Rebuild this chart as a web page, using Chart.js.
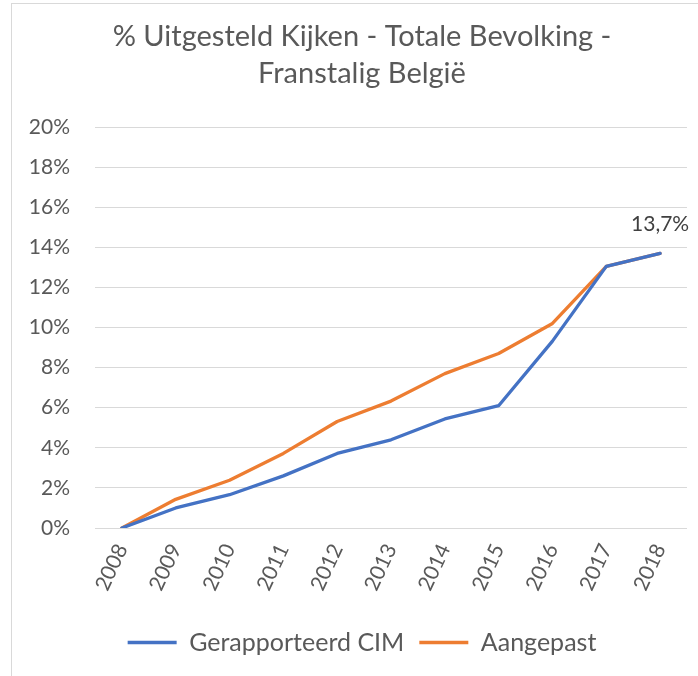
<!DOCTYPE html>
<html>
<head>
<meta charset="utf-8">
<script src="https://cdn.jsdelivr.net/npm/chart.js@4/dist/chart.umd.min.js"></script>
<style>
  html, body { margin: 0; padding: 0; background: #fff; }
  #wrap { position: relative; width: 698px; height: 676px; overflow: hidden; }
  #frame { position: absolute; left: 11px; top: 3px; width: 720px; height: 720px; border: 1px solid #d9d9d9; box-sizing: border-box; }
  canvas { position: absolute; left: 0; top: 0; }
</style>
</head>
<body>
<div id="wrap">
  <div id="frame"></div>
  <canvas id="c" width="724" height="676"></canvas>
</div>
<script>
const years = ['2008','2009','2010','2011','2012','2013','2014','2015','2016','2017','2018'];
const gerapporteerdCIM = [0, 1.0, 1.66, 2.6, 3.72, 4.4, 5.44, 6.1, 9.32, 13.05, 13.7];
const aangepast = [0, 1.43, 2.38, 3.72, 5.31, 6.33, 7.7, 8.7, 10.2, 13.05, 13.7];
const yTicks = [0, 2, 4, 6, 8, 10, 12, 14, 16, 18, 20];
const titleLines = ['% Uitgesteld Kijken - Totale Bevolking -', 'Franstalig België'];
const lastLabel = '13,7%';

const FONT = 'Lato, "Open Sans", sans-serif';
const GREY = '#595959';

const lastLabelPlugin = {
  id: 'lastLabel',
  afterDatasetsDraw(chart) {
    const meta = chart.getDatasetMeta(1);
    const pt = meta.data[meta.data.length - 1];
    const ctx = chart.ctx;
    ctx.save();
    ctx.font = '21px ' + FONT;
    ctx.fillStyle = '#404040';
    ctx.textAlign = 'center';
    ctx.textBaseline = 'middle';
    ctx.fillText(lastLabel, pt.x, pt.y - 29);
    ctx.restore();
  }
};

new Chart(document.getElementById('c'), {
  type: 'line',
  data: {
    labels: years,
    datasets: [
      { label: 'Gerapporteerd CIM', data: gerapporteerdCIM, borderColor: '#4472C4', backgroundColor: '#4472C4', borderWidth: 3.3, pointRadius: 0, tension: 0, borderCapStyle: 'round', borderJoinStyle: 'round' },
      { label: 'Aangepast', data: aangepast, borderColor: '#ED7D31', backgroundColor: '#ED7D31', borderWidth: 3.3, pointRadius: 0, tension: 0, borderCapStyle: 'round', borderJoinStyle: 'round' }
    ]
  },
  options: {
    responsive: false,
    animation: false,
    devicePixelRatio: 1,
    layout: { padding: { left: 0, right: 0, top: 0, bottom: 11 } },
    plugins: {
      title: {
        display: true,
        text: titleLines,
        color: GREY,
        font: { family: FONT, size: 29, weight: 'normal', lineHeight: '36.3px' },
        padding: { top: 18.9, bottom: 35.5 }
      },
      legend: {
        position: 'bottom',
        labels: {
          color: GREY,
          font: { family: FONT, size: 25 },
          usePointStyle: true,
          pointStyle: 'line',
          pointStyleWidth: 49,
          boxHeight: 25,
          padding: 15
        }
      },
      tooltip: { enabled: false }
    },
    scales: {
      x: {
        offset: true,
        grid: { display: false, drawTicks: false },
        border: { display: false },
        ticks: { color: GREY, font: { family: FONT, size: 21 }, minRotation: 65, maxRotation: 65, padding: 12 },
        afterFit(scale) { scale.height = 87; }
      },
      y: {
        min: 0, max: 20,
        afterBuildTicks(scale) { scale.ticks = yTicks.map(v => ({ value: v })); },
        grid: { color: '#d9d9d9', lineWidth: 1, drawTicks: false },
        border: { display: false },
        ticks: { color: GREY, font: { family: FONT, size: 21 }, padding: 25, callback: v => v + '%' },
        afterFit(scale) { scale.width = 95; }
      },
      spacer: {
        type: 'linear',
        position: 'right',
        display: true,
        min: 0, max: 20,
        grid: { display: false, drawTicks: false },
        border: { display: false },
        ticks: { display: false },
        afterFit(scale) { scale.width = 37; }
      }
    }
  },
  plugins: [lastLabelPlugin]
});
</script>
</body>
</html>
